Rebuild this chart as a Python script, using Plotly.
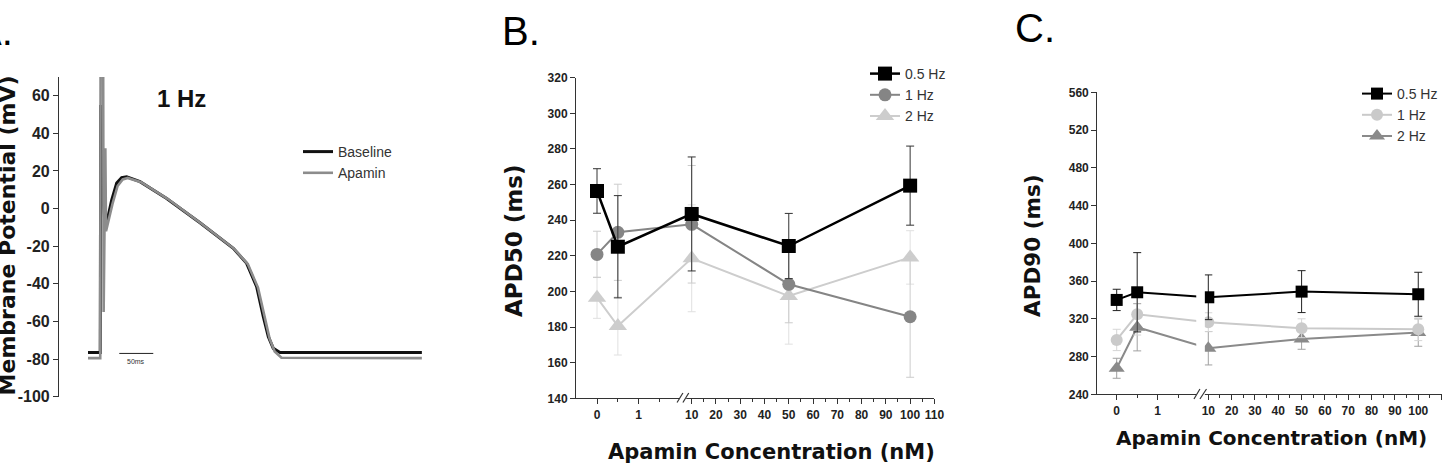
import plotly.graph_objects as go

W, H = 1449, 473

# ---------------- Panel A data: action potential traces at 1 Hz -------------
ap_time_baseline = [0, 18, 18.7, 21, 24.5, 27.4, 34.8, 42.2, 49.5, 56.9, 76.5, 115.7, 164.7,
                    213.7, 233.3, 248, 257.8, 265.2, 272.5, 282.4, 491]
ap_mv_baseline = [-76.5, -76.5, 55, 10, -6, -7.7, 4.5, 13.6, 16.4, 16.9, 14.3, 5.4, -7.5,
                  -21.1, -29.1, -41.5, -57.5, -68.1, -74.3, -76.5, -76.5]
ap_time_apamin = [0, 18, 18.5, 22.3, 23, 25.5, 26.5, 28.5, 36, 43.5, 51, 58.5, 78, 117, 166,
                  215, 235, 250, 259.5, 267, 274.5, 284.5, 491]
ap_mv_apamin = [-79.5, -79.5, 80, 80, -55, 32, -12, -9, 2.5, 12, 15.5, 16.3, 14, 5.2, -7.8,
                -21.4, -29.5, -42, -58, -69, -76, -79.3, -79.5]
ap_mv_ticks = [-100, -80, -60, -40, -20, 0, 20, 40, 60]

# ---------------- Panels B & C data -------------
conc_nM = [0, 0.5, 10, 50, 100]
x_major_ticks = [0, 1, 10, 20, 30, 40, 50, 60, 70, 80, 90, 100, 110]
x_minor_ticks = [0.5, 1.5, 15, 25, 35, 45, 55, 65, 75, 85, 95, 105]

apd50_05hz = [256.4, 225.1, 243.5, 225.5, 259.4]
apd50_05hz_err = [12.5, 28.7, 32, 18.3, 22.2]
apd50_1hz = [220.8, 233.2, 237.7, 204.0, 185.8]
apd50_1hz_err = [13, 27, 33, 21.6, 34]
apd50_2hz = [196.5, 180.6, 218.6, 197.4, 219.1]
apd50_2hz_err = [11.6, 16.3, 30, 27, 15]

apd90_05hz = [340.0, 348.1, 342.8, 348.8, 346.0]
apd90_05hz_err = [11.3, 42, 23.7, 22.2, 23.3]
apd90_1hz = [297.6, 324.8, 316.4, 310.0, 308.9]
apd90_1hz_err = [11.3, 22, 10, 10, 12]
apd90_2hz = [267.6, 311.0, 288.8, 298.7, 305.4]
apd90_2hz_err = [10.6, 25, 17.7, 11, 14.5]

ARIAL = "Liberation Sans, Arial, sans-serif"
DEJAVU = "DejaVu Sans, sans-serif"
AXC = "#333333"


def px(x):
    return x / W


def py(y):
    return 1 - y / H


# broken-axis scale: low segment 1 unit per nM, high segment compressed after the break
def make_break(u10, k):
    def f(c):
        return c if c < 5 else u10 + (c - 10) * k
    return f


brkB = make_break(2.271, 0.0582)
brkC = make_break(2.234, 0.0569)

fig = go.Figure()

# ---------------- Panel A -------------
fig.add_trace(go.Scatter(x=ap_time_baseline, y=ap_mv_baseline, mode="lines", name="Baseline",
                         line=dict(color="#111111", width=3), xaxis="x", yaxis="y",
                         legend="legend"))
fig.add_trace(go.Scatter(x=ap_time_apamin, y=ap_mv_apamin, mode="lines", name="Apamin",
                         line=dict(color="#8c8c8c", width=2.6), xaxis="x", yaxis="y",
                         legend="legend"))


def add_series(x, y, err, name, color, ecolor, symbol, size, xa, ya, leg, rank, lw=2):
    fig.add_trace(go.Scatter(
        x=x, y=y, mode="lines+markers", name=name, xaxis=xa, yaxis=ya, legend=leg,
        legendrank=rank,
        line=dict(color=color, width=lw),
        marker=dict(symbol=symbol, size=size, color=color, line=dict(width=0)),
        error_y=dict(type="data", array=err, color=ecolor, thickness=1, width=4),
        cliponaxis=False))


uB = [brkB(c) for c in conc_nM]
add_series(uB, apd50_2hz, apd50_2hz_err, "2 Hz", "#cdcdcd", "#e0e0e0", "triangle-up", 16,
           "x2", "y2", "legend2", 3)
add_series(uB, apd50_1hz, apd50_1hz_err, "1 Hz", "#858585", "#cccccc", "circle", 13,
           "x2", "y2", "legend2", 2)
add_series(uB, apd50_05hz, apd50_05hz_err, "0.5 Hz", "#000000", "#333333", "square", 14,
           "x2", "y2", "legend2", 1, lw=2.5)

uC = [brkC(c) for c in conc_nM]
add_series(uC, apd90_2hz, apd90_2hz_err, "2 Hz", "#8a8a8a", "#a0a0a0", "triangle-up", 14,
           "x3", "y3", "legend3", 3)
add_series(uC, apd90_1hz, apd90_1hz_err, "1 Hz", "#cacaca", "#d6d6d6", "circle", 12,
           "x3", "y3", "legend3", 2)
add_series(uC, apd90_05hz, apd90_05hz_err, "0.5 Hz", "#000000", "#222222", "square", 12,
           "x3", "y3", "legend3", 1)

tickfont = dict(family=ARIAL, size=12, color="#222222", weight="bold")

common_axis = dict(showline=True, linecolor=AXC, linewidth=1.2, ticks="outside", ticklen=5,
                   tickwidth=1, tickcolor=AXC, showgrid=False, zeroline=False, fixedrange=True)

# pixel geometry of the panels
A_x0, A_x1, A_y0, A_y1 = 59, 422, 76.9, 396.7
B_px0, B_pxu = 597.0, 41.7
C_px0, C_pxu = 1116.7, 41.0
B_lo, B_hi = -0.5, brkB(110)
C_lo, C_hi = -0.473, brkC(110)

legfont = dict(family=ARIAL, size=14, color="#333333")

fig.update_layout(
    width=W, height=H, plot_bgcolor="white", paper_bgcolor="white",
    margin=dict(l=0, r=0, t=0, b=0, autoexpand=False),
    showlegend=True,
    xaxis=dict(domain=[px(A_x0), px(A_x1)], range=[-42.65, 491.2], visible=False,
               anchor="y", fixedrange=True),
    yaxis=dict(domain=[py(A_y1), py(A_y0)], range=[-100, 70], anchor="x",
               tickmode="array", tickvals=ap_mv_ticks, ticktext=[str(v) for v in ap_mv_ticks],
               tickfont=dict(family=ARIAL, size=16, color="#222222", weight="bold"),
               **common_axis),
    xaxis2=dict(domain=[px(B_px0 + B_lo * B_pxu), px(B_px0 + B_hi * B_pxu)],
                range=[B_lo, B_hi], anchor="y2",
                tickmode="array", tickvals=[brkB(c) for c in x_major_ticks],
                ticktext=[str(c) for c in x_major_ticks], tickfont=tickfont,
                minor=dict(tickmode="array", tickvals=[brkB(c) for c in x_minor_ticks],
                           ticks="outside", ticklen=3, tickcolor=AXC, showgrid=False),
                **common_axis),
    yaxis2=dict(domain=[py(398.3), py(77.7)], range=[140, 320], anchor="x2",
                tickvals=list(range(140, 321, 20)), tickfont=tickfont, **common_axis),
    xaxis3=dict(domain=[px(C_px0 + C_lo * C_pxu), px(C_px0 + C_hi * C_pxu)],
                range=[C_lo, C_hi], anchor="y3",
                tickmode="array", tickvals=[brkC(c) for c in x_major_ticks],
                ticktext=[str(c) for c in x_major_ticks], tickfont=tickfont,
                minor=dict(tickmode="array", tickvals=[brkC(c) for c in x_minor_ticks],
                           ticks="outside", ticklen=3, tickcolor=AXC, showgrid=False),
                **common_axis),
    yaxis3=dict(domain=[py(394.3), py(92.3)], range=[240, 560], anchor="x3",
                tickvals=list(range(240, 561, 40)), tickfont=tickfont, **common_axis),
    legend=dict(x=px(298), y=py(136), xanchor="left", yanchor="top", font=legfont,
                bgcolor="rgba(0,0,0,0)", borderwidth=0, itemwidth=30, tracegroupgap=0),
    legend2=dict(x=px(865), y=py(58), xanchor="left", yanchor="top", font=legfont,
                 bgcolor="rgba(0,0,0,0)", borderwidth=0, itemwidth=30, tracegroupgap=0),
    legend3=dict(x=px(1357), y=py(78), xanchor="left", yanchor="top", font=legfont,
                 bgcolor="rgba(0,0,0,0)", borderwidth=0, itemwidth=30, tracegroupgap=0),
)

shapes = []
# 50 ms scale bar in panel A
shapes.append(dict(type="line", xref="x", yref="y", x0=46, x1=96, y0=-77, y1=-77,
                   line=dict(color="#222222", width=1)))
# axis break marks, panel B
shapes.append(dict(type="rect", xref="x2", yref="paper", x0=1.99, x1=2.14,
                   y0=py(401), y1=py(395), fillcolor="white", line=dict(width=0), layer="above"))
for a, b in [(1.92, 2.06), (2.06, 2.20)]:
    shapes.append(dict(type="line", xref="x2", yref="paper", x0=a, x1=b, y0=py(402.5), y1=py(393),
                       line=dict(color=AXC, width=1.2), layer="above"))
# axis break, panel C (lines interrupted across the break)
shapes.append(dict(type="rect", xref="x3", yref="paper", x0=1.94, x1=2.15,
                   y0=py(397.5), y1=py(80), fillcolor="white", line=dict(width=0), layer="above"))
for a, b in [(1.885, 2.03), (2.03, 2.19)]:
    shapes.append(dict(type="line", xref="x3", yref="paper", x0=a, x1=b, y0=py(399), y1=py(389),
                       line=dict(color=AXC, width=1.2), layer="above"))
fig.update_layout(shapes=shapes)

ann = []
ann.append(dict(text="A.", x=px(15), y=py(31), xanchor="right", yanchor="middle",
                font=dict(family=ARIAL, size=40, color="#000")))
ann.append(dict(text="B.", x=px(500), y=py(31), xanchor="left", yanchor="middle",
                font=dict(family=ARIAL, size=40, color="#000")))
ann.append(dict(text="C.", x=px(1013), y=py(28), xanchor="left", yanchor="middle",
                font=dict(family=ARIAL, size=40, color="#000")))
ann.append(dict(text="1 Hz", x=px(155), y=py(98.5), xanchor="left", yanchor="middle",
                font=dict(family=ARIAL, size=24, color="#111", weight="bold")))
ann.append(dict(text="50ms", x=71, y=-81.5, xref="x", yref="y", xanchor="center",
                yanchor="middle", font=dict(family=ARIAL, size=7, color="#333")))
ann.append(dict(text="Membrane Potential (mV)", textangle=-90, x=px(7.4), y=py(235),
                xanchor="center", yanchor="middle",
                font=dict(family=DEJAVU, size=22, color="#111", weight="bold")))
ann.append(dict(text="APD50 (ms)", textangle=-90, x=px(514), y=py(241),
                xanchor="center", yanchor="middle",
                font=dict(family=DEJAVU, size=23, color="#111", weight="bold")))
ann.append(dict(text="APD90 (ms)", textangle=-90, x=px(1032), y=py(246),
                xanchor="center", yanchor="middle",
                font=dict(family=DEJAVU, size=21.5, color="#111", weight="bold")))
ann.append(dict(text="Apamin Concentration (nM)", x=px(771), y=py(452),
                xanchor="center", yanchor="middle",
                font=dict(family=DEJAVU, size=21, color="#111", weight="bold")))
ann.append(dict(text="Apamin Concentration (nM)", x=px(1271), y=py(438),
                xanchor="center", yanchor="middle",
                font=dict(family=DEJAVU, size=20, color="#111", weight="bold")))
for a in ann:
    a.setdefault("xref", "paper")
    a.setdefault("yref", "paper")
    a["showarrow"] = False
fig.update_layout(annotations=ann)

fig.write_html("out.html")
